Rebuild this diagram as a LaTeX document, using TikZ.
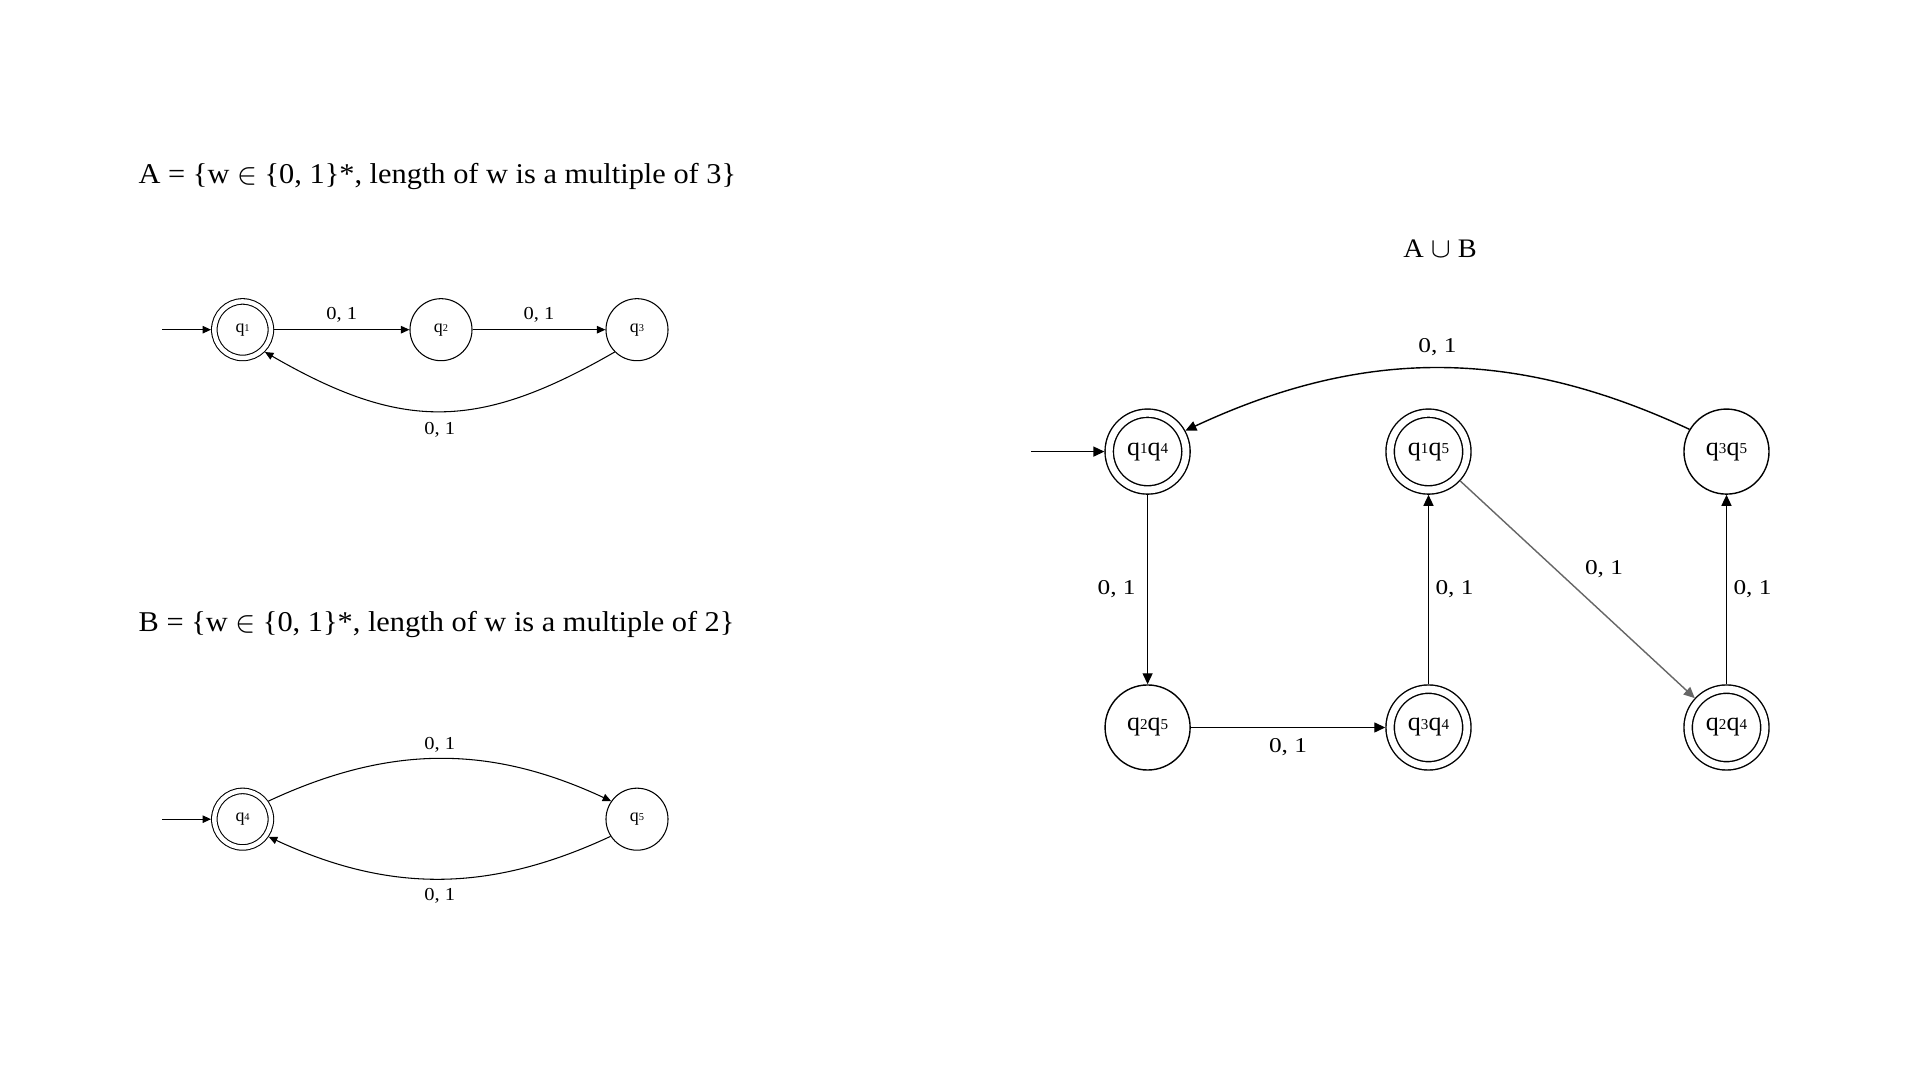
\documentclass[tikz,border=0pt]{standalone}
\usepackage{fontspec}
\setmainfont{Liberation Serif}
\newfontfamily\lblfont[FakeStretch=1.12]{Liberation Serif}
\newfontfamily\wlblfont[FakeStretch=1.2]{Liberation Serif}
\newfontfamily\ttlfont[FakeStretch=1.06]{Liberation Serif}
\usetikzlibrary{arrows.meta}

% state name with a small raised index digit
\newcommand\qsub[1]{\raisebox{0.06em}{\scalebox{0.58}{#1}}}
\newcommand\qq[1]{q\qsub{#1}}

\begin{document}
\begin{tikzpicture}[x=0.01cm,y=0.01cm,
  % small automata (left)
  sstate/.style={circle,draw,line width=0.3pt,minimum size=0.62cm,inner sep=0pt,
    font=\fontsize{5.1pt}{5.5pt}\selectfont},
  saccept/.style={sstate,double,double distance=0.0445cm,minimum size=0.565cm,outer sep=0.033cm},
  sedge/.style={draw,line width=0.3pt,-{Triangle[length=0.085cm,width=0.075cm]}},
  slbl/.style={inner sep=0pt,font=\lblfont\fontsize{5.2pt}{6pt}\selectfont},
  % product automaton (right)
  bstate/.style={circle,draw,line width=0.4pt,minimum size=0.85cm,inner sep=0pt,
    font=\fontsize{7.4pt}{8pt}\selectfont},
  baccept/.style={bstate,double,double distance=0.069cm,minimum size=0.767cm,outer sep=0.0485cm},
  bedge/.style={draw,line width=0.4pt,-{Triangle[length=0.11cm,width=0.1cm]}},
  blbl/.style={inner sep=0pt,font=\wlblfont\fontsize{6.0pt}{7pt}\selectfont},
  title/.style={inner sep=0pt,anchor=base west,font=\ttlfont\fontsize{8.15pt}{9pt}\selectfont}
]
\path[use as bounding box,fill=white] (0,0) rectangle (1920,-1080);

% ---------- language A ----------
\node[title] (tA) at (138,-183.3) {A = \{w $\in$ \{0, 1\}*, length of w is a multiple of 3\}};

\coordinate (s1) at (162,-329.7);
\node[saccept] (q1) at (242.6,-329.7) {\qq{1}};
\node[sstate]  (q2) at (441,-329.7)   {\qq{2}};
\node[sstate]  (q3) at (637,-329.7)   {\qq{3}};

\draw[sedge] (s1) -- (q1);
\draw[sedge] (q1) -- node[slbl,yshift=0.147cm] {0, 1} (q2);
\draw[sedge] (q2) -- node[slbl,yshift=0.147cm] {0, 1} (q3);
\draw[sedge] (q3.225) to[out=210,in=330,looseness=1.16]
  node[slbl,yshift=-0.183cm] {0, 1} (q1.315);

% ---------- language B ----------
\node[title] (tB) at (138,-631.5) {B = \{w $\in$ \{0, 1\}*, length of w is a multiple of 2\}};

\coordinate (s2) at (162,-819.2);
\node[saccept] (q4) at (242.6,-819.2) {\qq{4}};
\node[sstate]  (q5) at (637,-819.2)   {\qq{5}};

\draw[sedge] (s2) -- (q4);
\draw[sedge] (q4.35) to[out=25,in=155,looseness=1.0]
  node[slbl,yshift=0.143cm] {0, 1} (q5.145);
\draw[sedge] (q5.213) to[out=205,in=335,looseness=1.0]
  node[slbl,yshift=-0.167cm] {0, 1} (q4.326);

% ---------- union A U B ----------
\node[inner sep=0pt,anchor=base,font=\ttlfont\fontsize{7.6pt}{8pt}\selectfont] (tU) at (1440,-257.3) {A $\cup$ B};

\coordinate (s3) at (1031,-451.6);
\node[baccept] (a14) at (1147.6,-451.6) {\qq{1}\qq{4}};
\node[baccept] (a15) at (1428.5,-451.6) {\qq{1}\qq{5}};
\node[bstate]  (a35) at (1726.5,-451.6) {\qq{3}\qq{5}};
\node[bstate]  (a25) at (1147.6,-727.5) {\qq{2}\qq{5}};
\node[baccept] (a34) at (1428.5,-727.5) {\qq{3}\qq{4}};
\node[baccept] (a24) at (1726.5,-727.5) {\qq{2}\qq{4}};

\draw[bedge] (s3) -- (a14);
\draw[bedge] (a35.149) to[out=155,in=25,looseness=0.99]
  node[blbl,yshift=0.21cm] {0, 1} (a14.29);
\draw[bedge] (a14) -- node[blbl,xshift=-0.31cm] {0, 1} (a25);
\draw[bedge] (a25) -- node[blbl,yshift=-0.2cm] {0, 1} (a34);
\draw[bedge] (a34) -- node[blbl,xshift=0.26cm] {0, 1} (a15);
\draw[bedge] (a24) -- node[blbl,xshift=0.26cm] {0, 1} (a35);
\draw[bedge,draw=black!60] (a15) -- node[blbl,xshift=0.265cm,yshift=0.205cm] {0, 1} (a24);
\end{tikzpicture}
\end{document}
